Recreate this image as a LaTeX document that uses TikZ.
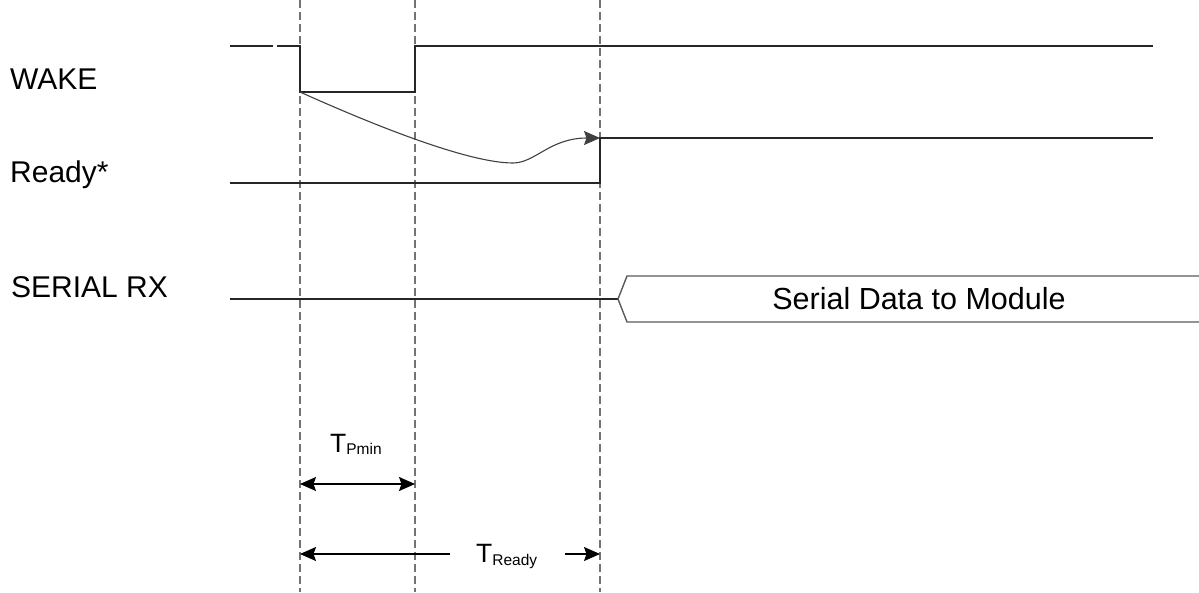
\documentclass[tikz,border=0pt]{standalone}
\usepackage{fontspec}
\setmainfont{Liberation Sans}
\usetikzlibrary{arrows.meta}
\begin{document}
\begin{tikzpicture}[x=1pt,y=-1pt,
  sig/.style={line width=1.3pt, black!85},
  curvesig/.style={line width=1.1pt, black!75},
  boxline/.style={line width=1.4pt, black!65},
  guide/.style={line width=1.4pt, black!55, dash pattern=on 8pt off 4pt},
  lbl/.style={anchor=base west, inner sep=0pt, font=\fontsize{30}{30}\selectfont},
  tlbl/.style={anchor=base west, inner sep=0pt, font=\fontsize{26.5}{26.5}\selectfont},
  tipend/.style={-{Stealth[length=16pt,width=14pt,inset=2.5pt]}},
  tipboth/.style={{Stealth[length=16pt,width=14pt,inset=2.5pt]}-{Stealth[length=16pt,width=14pt,inset=2.5pt]}},
  dim/.style={line width=1.3pt, black}
]
\useasboundingbox (0,0) rectangle (1199,592);
% guide lines
\coordinate (g1t) at (300,0);   \coordinate (g1b) at (300,592);
\coordinate (g2t) at (415,0);   \coordinate (g2b) at (415,592);
\coordinate (g3t) at (600,0);   \coordinate (g3b) at (600,592);
\draw[guide] (g1t) -- (g1b);
\draw[guide] (g2t) -- (g2b);
\draw[guide] (g3t) -- (g3b);
% WAKE
\coordinate (w0) at (230,46); \coordinate (w1) at (273,46);
\coordinate (w2) at (277,46); \coordinate (w3) at (300,46);
\coordinate (w4) at (300,92); \coordinate (w5) at (415,92);
\coordinate (w6) at (415,46); \coordinate (w7) at (1153,46);
\draw[sig] (w0) -- (w1);
\draw[sig] (w2) -- (w3) -- (w4) -- (w5) -- (w6) -- (w7);
% Ready
\coordinate (r0) at (230,183); \coordinate (r1) at (600,183);
\coordinate (r2) at (600,138); \coordinate (r3) at (1153,138);
\draw[sig] (r0) -- (r1) -- (r2) -- (r3);
% causal curve
\coordinate (cm) at (513,163);
\draw[curvesig, tipend] (w4) .. controls (380,128) and (470,163) .. (cm)
   .. controls (535,163) and (550,138) .. (r2);
% Serial RX
\coordinate (s0) at (230,299); \coordinate (s1) at (618,299);
\coordinate (bt0) at (627,276); \coordinate (bt1) at (1199,276);
\coordinate (bb0) at (627,322); \coordinate (bb1) at (1199,322);
\draw[sig] (s0) -- (s1);
\draw[boxline] (bt1) -- (bt0) -- (s1) -- (bb0) -- (bb1);
\node[anchor=base, inner sep=0pt, font=\fontsize{30.5}{30.5}\selectfont] (data) at (919,309) {Serial Data to Module};
% labels
\node[lbl] (wake) at (10,89) {WAKE};
\node[lbl] (ready) at (10,182) {Ready*};
\node[lbl] (serial) at (11,297) {SERIAL RX};
% dimension arrows
\coordinate (p0) at (300,484); \coordinate (p1) at (415,484);
\draw[dim, tipboth] (p0) -- (p1);
\node[tlbl] (tp) at (330,452) {T\raisebox{-2pt}{\fontsize{15.5}{15.5}\selectfont Pmin}};
\coordinate (q0) at (300,554); \coordinate (qa) at (450,554);
\coordinate (qb) at (565,554); \coordinate (q1) at (600,554);
\draw[dim, tipend] (qa) -- (q0);
\draw[dim, tipend] (qb) -- (q1);
\node[tlbl] (tr) at (476,562) {T\raisebox{-3pt}{\fontsize{15.5}{15.5}\selectfont Ready}};
\end{tikzpicture}
\end{document}
